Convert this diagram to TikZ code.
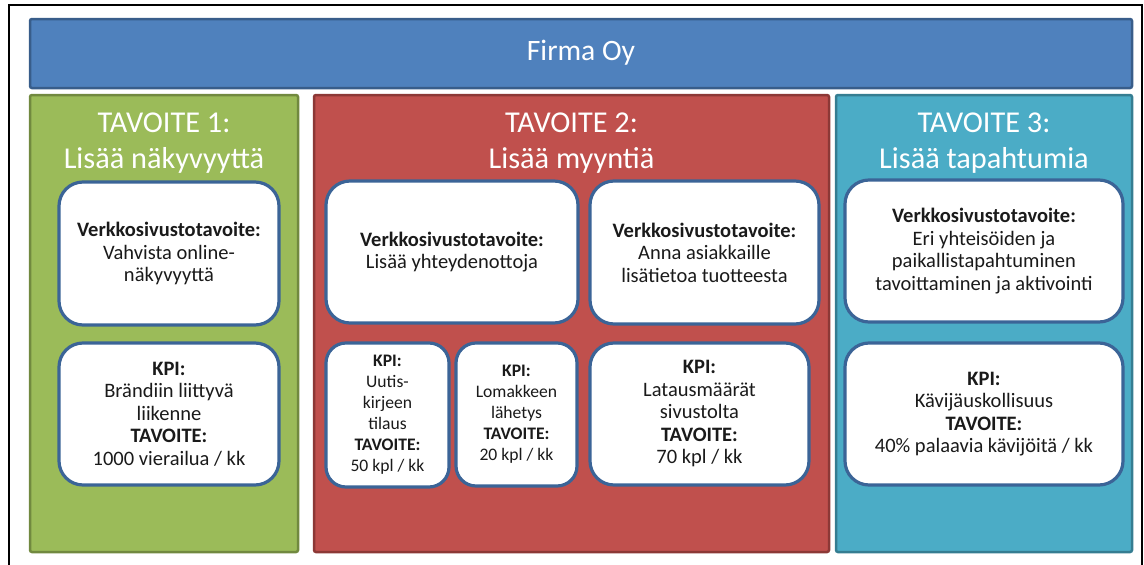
\documentclass[tikz,border=0pt]{standalone}
\usepackage{fontspec}
\setmainfont{Carlito}
\definecolor{barfill}{HTML}{4F81BD}
\definecolor{barline}{HTML}{385D8A}
\definecolor{gfill}{HTML}{9BBB59}
\definecolor{gline}{HTML}{71893F}
\definecolor{rfill}{HTML}{C0504D}
\definecolor{rline}{HTML}{8C3836}
\definecolor{tfill}{HTML}{4BACC6}
\definecolor{tline}{HTML}{357D91}
\definecolor{cardline}{HTML}{3B6497}
\definecolor{cardtext}{HTML}{1A1A1A}
\begin{document}
\begin{tikzpicture}[x=1pt,y=-1pt,
  topbar/.style={fill=barfill,draw=barline,line width=2.5pt,rounded corners=2pt,inner sep=0pt},
  colbox/.style={line width=2.5pt,rounded corners=2pt,inner sep=0pt},
  coltitle/.style={text=white,align=center,font=\fontsize{30.3}{36}\selectfont,inner sep=0pt},
  card/.style={fill=white,draw=cardline,line width=3.2pt,rounded corners=24pt,align=center,text=cardtext,
    font=\fontsize{20.5}{22.5}\selectfont,inner sep=0pt},
  smallcard/.style={card,font=\fontsize{17.6}{21}\selectfont,rounded corners=20pt}]
\useasboundingbox (0,0) rectangle (1144,565);
% outer frame
\coordinate (fbl) at (9,566);
\coordinate (ftl) at (9,5);
\coordinate (ftr) at (1142,5);
\coordinate (fbr) at (1142,566);
\draw[line width=1.6pt,black] (fbl) -- (ftl) -- (ftr) -- (fbr);
% top bar
\node[topbar,minimum width=1102pt,minimum height=69pt] (bar) at (581,53.5) {};
\node[text=white,font=\fontsize{29.6}{34}\selectfont] (bartext) at (581,53) {Firma Oy};
% columns
\node[colbox,fill=gfill,draw=gline,minimum width=268pt,minimum height=457pt] (green) at (164,323.5) {};
\node[colbox,fill=rfill,draw=rline,minimum width=515pt,minimum height=457pt] (red) at (571.5,323.5) {};
\node[colbox,fill=tfill,draw=tline,minimum width=296pt,minimum height=457pt] (teal) at (984,323.5) {};
% titles
\node[coltitle] (gtitle) at (164,143) {TAVOITE 1:\\Lisää näkyvyyttä};
\node[coltitle] (rtitle) at (571.5,143) {TAVOITE 2:\\Lisää myyntiä};
\node[coltitle] (ttitle) at (984,143) {TAVOITE 3:\\Lisää tapahtumia};
% green cards
\node[card,minimum width=220pt,minimum height=143pt] (g1) at (169,253.5)
  {\textbf{Verkkosivustotavoite:}\\Vahvista online-\\näkyvyyttä};
\node[card,minimum width=220pt,minimum height=142pt] (g2) at (169,414)
  {\textbf{KPI:}\\Brändiin liittyvä\\liikenne\\\textbf{TAVOITE:}\\1000 vierailua / kk};
% red cards
\node[card,minimum width=252pt,minimum height=142pt] (r1) at (452,252)
  {\textbf{Verkkosivustotavoite:}\\Lisää yhteydenottoja};
\node[card,minimum width=229pt,minimum height=143pt] (r2) at (704.5,252.5)
  {\textbf{Verkkosivustotavoite:}\\Anna asiakkaille\\lisätietoa tuotteesta};
\node[smallcard,minimum width=123pt,minimum height=144pt] (r3) at (387.5,415)
  {\textbf{KPI:}\\Uutis-\\kirjeen\\tilaus\\\textbf{TAVOITE:}\\50 kpl / kk};
\node[smallcard,minimum width=121pt,minimum height=143pt] (r4) at (516.5,414.5)
  {\textbf{KPI:}\\Lomakkeen\\lähetys\\\textbf{TAVOITE:}\\20 kpl / kk};
\node[card,minimum width=219pt,minimum height=142pt] (r5) at (699.5,414)
  {\textbf{KPI:}\\Latausmäärät\\sivustolta\\\textbf{TAVOITE:}\\70 kpl / kk};
% teal cards
\node[card,minimum width=278pt,minimum height=142pt] (t1) at (984,251)
  {\textbf{Verkkosivustotavoite:}\\Eri yhteisöiden ja\\paikallistapahtuminen\\tavoittaminen ja aktivointi};
\node[card,minimum width=278pt,minimum height=142pt] (t2) at (984,414)
  {\textbf{KPI:}\\Kävijäuskollisuus\\\textbf{TAVOITE:}\\40\% palaavia kävijöitä / kk};
\end{tikzpicture}
\end{document}
